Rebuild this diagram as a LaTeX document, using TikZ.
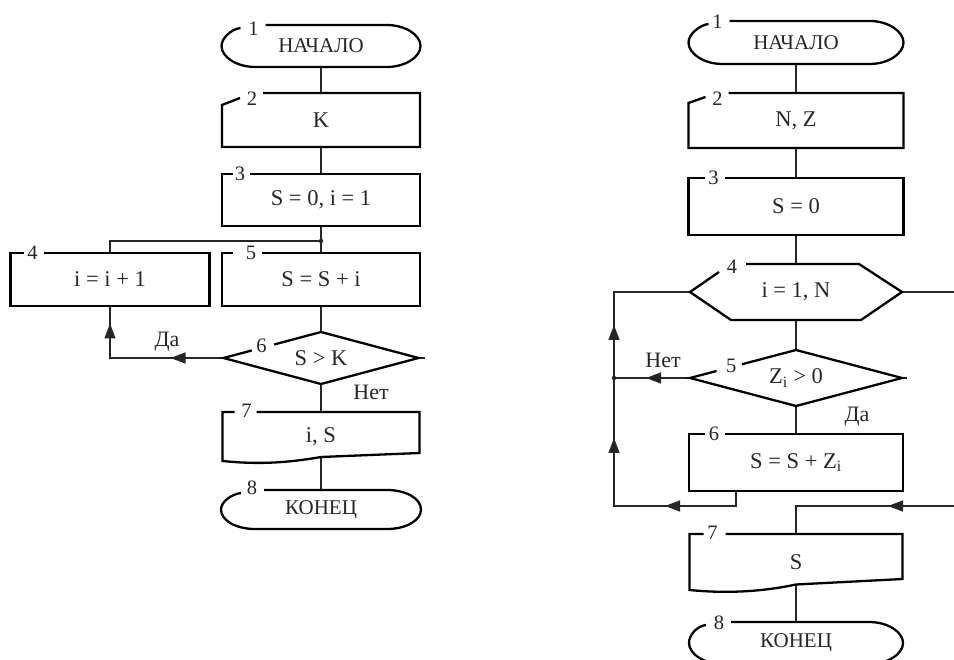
\documentclass[tikz,border=0pt]{standalone}
\usepackage{fontspec}
\setmainfont{Liberation Serif}
\usetikzlibrary{calc,arrows.meta,decorations.markings}

\tikzset{
  blk/.style={draw=none, rectangle, inner sep=0pt, outer sep=0pt,
              font=\fontsize{22.5}{26}\selectfont, text=black!85},
  termtext/.style={font=\fontsize{21}{25}\selectfont},
  numlbl/.style={inner sep=0pt, font=\fontsize{20.5}{24}\selectfont, text=black!85},
  branch/.style={inner sep=0pt, font=\fontsize{22}{26}\selectfont, text=black!85},
  outl/.style={line width=2.3pt, line join=miter, black},
  conn/.style={line width=1.4pt, black!85},
}
\newcommand{\tipmark}{\arrow{Triangle[length=15pt,width=11pt]}}

% terminator: node, number, arc end offset, top line start, number x, number y
\newcommand{\termshape}[6]{%
  \draw[outl] ($(#1.north west)+(#4,0)$) -- ($(#1.north east)+(-34,0)$)
    .. controls ($(#1.north east)+(-15,0)$) and ($(#1.east)+(0,-11)$) .. (#1.east)
    .. controls ($(#1.east)+(0,11)$) and ($(#1.south east)+(-15,0)$) .. ($(#1.south east)+(-34,0)$)
    -- ($(#1.south west)+(34,0)$)
    .. controls ($(#1.south west)+(15,0)$) and ($(#1.west)+(0,11)$) .. (#1.west)
    .. controls ($(#1.west)+(0,-8)$) and ($(#1.north west)+({#3-9},4)$) .. ($(#1.north west)+(#3,3)$);
  \node[numlbl] (#1n) at ($(#1.north west)+(#5,#6)$) {#2};}

% process: node, number, tick length, number x, top line resume
\newcommand{\procshape}[5]{%
  \draw[outl] ($(#1.north west)+(#3,0)$) -- (#1.north west) -- (#1.south west)
    -- (#1.south east) -- (#1.north east) -- ($(#1.north west)+(#5,0)$);
  \node[numlbl] (#1n) at ($(#1.north west)+(#4,0)$) {#2};}

% manual input: node, number, left drop, slant end x, slant end y, number x, top line resume
\newcommand{\inshape}[7]{%
  \draw[outl] ($(#1.north west)+(#4,#5)$) -- ($(#1.north west)+(0,#3)$) -- (#1.south west)
    -- (#1.south east) -- (#1.north east) -- ($(#1.north west)+(#7,0)$);
  \node[numlbl] (#1n) at ($(#1.north west)+(#6,6)$) {#2};}

% output document: node, number, tick length, number x, top line resume, right rise
\newcommand{\outshape}[6]{%
  \draw[outl] ($(#1.north west)+(#3,0)$) -- (#1.north west) -- (#1.south west)
    .. controls ($(#1.south west)+(30,3)$) and ($(#1.south)+(-40,3)$) .. ($(#1.south)+(0,{-#6/2})$)
    -- ($(#1.south east)+(0,-#6)$) -- (#1.north east) -- ($(#1.north west)+(#5,0)$);
  \node[numlbl] (#1n) at ($(#1.north west)+(#4,-1)$) {#2};}

\begin{document}
\begin{tikzpicture}[x=1pt,y=-1pt]
\useasboundingbox (0,0) rectangle (954,660);

% ---------- left algorithm ----------
\node[blk,termtext,minimum width=199pt,minimum height=42pt] (L1) at (321,46) {НАЧАЛО};
\node[blk,minimum width=198pt,minimum height=54pt] (L2) at (321,120) {K};
\node[blk,minimum width=198pt,minimum height=52pt] (L3) at (321,200) {S = 0, i = 1};
\node[blk,minimum width=199pt,minimum height=53pt] (L4) at (110,279.5) {i = i + 1};
\node[blk,minimum width=198pt,minimum height=53pt] (L5) at (321,279.5) {S = S + i};
\node[blk,minimum width=195pt,minimum height=52pt] (L6) at (321,358) {S > K};
\node[blk,minimum width=197pt,minimum height=49pt] (L7) at (321,436.5) {i, S};
\node[blk,termtext,minimum width=200pt,minimum height=39pt] (L8) at (321,509.5) {КОНЕЦ};

\coordinate (J) at ($(L5.north)+(0,-12)$);
\coordinate (L7m) at ($(L7.south)+(0,-4)$);

\draw[conn] (L1.south) -- (L2.north);
\draw[conn] (L2.south) -- (L3.north);
\draw[conn] (L3.south) -- (L5.north);
\draw[conn] (J) -- (J -| L4.north) -- (L4.north);
\fill[black!85] (J) circle (2.2);
\draw[conn] (L5.south) -- (L6.north);
\draw[conn, postaction={decorate}, decoration={markings,
      mark=at position 53pt with {\tipmark}, mark=at position 148pt with {\tipmark}}]
  (L6.west) -- (L6.west -| L4.south) -- (L4.south);
\draw[conn] (L6.east) -- ++(6,0);
\draw[conn] (L6.south) -- (L7.north);
\draw[conn] (L7m) -- (L8.north);

\termshape{L1}{1}{19}{44}{32}{4}
\inshape{L2}{2}{12}{18}{5}{30}{41}
\procshape{L3}{3}{11}{18}{28}
\procshape{L4}{4}{13}{22}{33}
\procshape{L5}{5}{11}{29}{40}
\draw[outl] ($(L6.west)!0.52!(L6.north)$) -- (L6.north) -- (L6.east) -- (L6.south)
  -- (L6.west) -- ($(L6.west)!0.29!(L6.north)$);
\node[numlbl] (L6n) at ($(L6.west)!0.39!(L6.north)+(0,-2)$) {6};
\outshape{L7}{7}{12}{24}{34}{8}
\termshape{L8}{8}{20}{43}{31}{-2}

\node[branch] (yesL) at (167,342) {Да};
\node[branch] (noL) at (371,392) {Нет};

% ---------- right algorithm ----------
\node[blk,termtext,minimum width=215pt,minimum height=43pt] (R1) at (796,42.5) {НАЧАЛО};
\node[blk,minimum width=215pt,minimum height=55pt] (R2) at (796,120.5) {N, Z};
\node[blk,minimum width=215pt,minimum height=57pt] (R3) at (796,206.5) {S = 0};
\node[blk,minimum width=212pt,minimum height=56pt] (R4) at (796,292) {i = 1, N};
\node[blk,minimum width=212pt,minimum height=56pt] (R5) at (796,378) {Z\textsubscript{i} > 0};
\node[blk,minimum width=214pt,minimum height=57pt] (R6) at (796,462.5) {S = S + Z\textsubscript{i}};
\node[blk,minimum width=213pt,minimum height=56pt] (R7) at (796,562) {S};
\node[blk,termtext,minimum width=214pt,minimum height=42pt] (R8) at (796,643) {КОНЕЦ};

\coordinate (LX) at (614,0);
\coordinate (RB) at ($(R6.south)+(-60,15)$);
\coordinate (RO) at (960,292);
\coordinate (RI) at (960,506);
\coordinate (RT) at ($(R7.north)+(0,-28)$);
\coordinate (R7m) at ($(R7.south)+(0,-5.5)$);

\draw[conn] (R1.south) -- (R2.north);
\draw[conn] (R2.south) -- (R3.north);
\draw[conn] (R3.south) -- (R4.north);
\draw[conn] (R4.south) -- (R5.north);
\draw[conn] (R5.south) -- (R6.north);
\draw[conn, postaction={decorate}, decoration={markings,
      mark=at position 86pt with {\tipmark}, mark=at position 205pt with {\tipmark},
      mark=at position 318pt with {\tipmark}}]
  ($(R6.south)+(-60,0)$) -- (RB) -- (RB -| LX) -- (LX |- R4.west) -- (R4.west);
\draw[conn, postaction={decorate}, decoration={markings,
      mark=at position 44pt with {\tipmark}}]
  (R5.west) -- (R5.west -| LX);
\fill[black!85] (R5.west -| LX) circle (2.2);
\draw[conn] (R5.east) -- ++(5,0);
\draw[conn] (R4.east) -- (RO);
\draw[conn, postaction={decorate}, decoration={markings,
      mark=at position 72pt with {\tipmark}}]
  (RI) -- (RT) -- (R7.north);
\draw[conn] (R7m) -- (R8.north);

\termshape{R1}{1}{20}{41}{29}{1}
\inshape{R2}{2}{10}{17}{4}{29}{40}
\procshape{R3}{3}{16}{25}{36}
\draw[outl] ($(R4.north west)+(56,0)$) -- ($(R4.north east)+(-43,0)$) -- (R4.east)
  -- ($(R4.south east)+(-41,0)$) -- ($(R4.south west)+(41,0)$) -- (R4.west)
  -- ($(R4.west)+(29,-20)$);
\node[numlbl] (R4n) at ($(R4.north west)+(42,3)$) {4};
\draw[outl] ($(R5.west)!0.49!(R5.north)$) -- (R5.north) -- (R5.east) -- (R5.south)
  -- (R5.west) -- ($(R5.west)!0.25!(R5.north)$);
\node[numlbl] (R5n) at ($(R5.west)!0.39!(R5.north)+(0,-1)$) {5};
\procshape{R6}{6}{16}{25}{36}
\outshape{R7}{7}{14}{23}{36}{11}
\termshape{R8}{8}{17}{42}{30}{1}

\node[branch] (noR) at (663,360) {Нет};
\node[branch] (yesR) at (857,417) {Да};
\end{tikzpicture}
\end{document}
